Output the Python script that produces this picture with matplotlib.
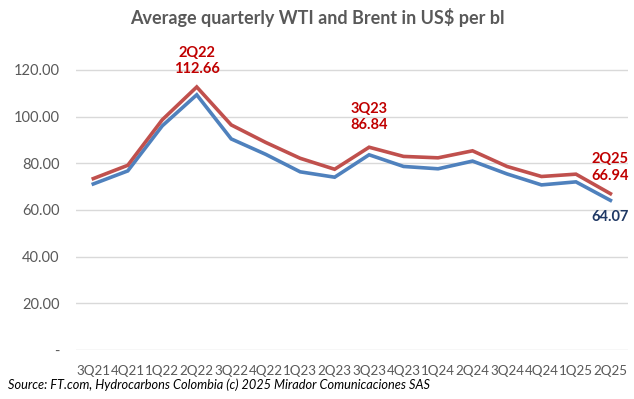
import matplotlib.pyplot as plt

# Data
quarters = ["3Q21", "4Q21", "1Q22", "2Q22", "3Q22", "4Q22", "1Q23", "2Q23",
            "3Q23", "4Q23", "1Q24", "2Q24", "3Q24", "4Q24", "1Q25", "2Q25"]
brent = [73.4, 79.1, 98.6, 112.66, 96.4, 88.9, 82.1, 77.4,
         86.84, 82.9, 82.3, 85.3, 78.6, 74.3, 75.3, 66.94]
wti = [71.1, 76.7, 96.0, 109.3, 90.4, 83.8, 76.3, 74.0,
       83.6, 78.6, 77.6, 80.9, 75.4, 70.7, 72.0, 64.07]
yticks = [0, 20, 40, 60, 80, 100, 120]
ytick_labels = ["-", "20.00", "40.00", "60.00", "80.00", "100.00", "120.00"]

plt.rcParams['font.family'] = ['Lato', 'DejaVu Sans']

fig = plt.figure(figsize=(6.34, 3.99), dpi=100)
ax = fig.add_axes([0.12, 0.123, 0.87, 0.819])

x = list(range(len(quarters)))
ax.plot(x, wti, color='#4F81BD', linewidth=2.6, solid_joinstyle='miter', zorder=3)
ax.plot(x, brent, color='#C0504D', linewidth=2.6, solid_joinstyle='miter', zorder=3)

ax.set_xlim(-0.5, len(quarters) - 0.5)
ax.set_ylim(0, 140)
ax.set_yticks(yticks)
ax.set_yticklabels(ytick_labels)
ax.set_xticks(x)
ax.set_xticklabels(quarters)
ax.tick_params(axis='both', length=0, colors='#595959')
ax.tick_params(axis='x', pad=11, labelsize=9.6)
ax.tick_params(axis='y', pad=12, labelsize=10.5)
ax.grid(axis='y', color='#D9D9D9', linewidth=1)
ax.set_axisbelow(True)
for s in ax.spines.values():
    s.set_visible(False)

# Annotations
red = '#C00000'
for i, off in [(3, 8), (8, 11), (15, 8)]:
    ax.annotate(f"{quarters[i]}\n{brent[i]:.2f}", (i, brent[i]), xytext=(0, off),
                textcoords='offset points', ha='center', va='bottom',
                color=red, fontsize=10.5, fontweight='bold', linespacing=1.2)
ax.annotate(f"{wti[15]:.2f}", (15, wti[15]), xytext=(0, -7),
            textcoords='offset points', ha='center', va='top',
            color='#1F3864', fontsize=10.5, fontweight='bold')

fig.text(0.5, 0.955, "Average quarterly WTI and Brent in US$ per bl", ha='center',
         va='center', fontsize=13, fontweight='bold', color='#595959')
fig.text(0.012, 0.035, "Source: FT.com, Hydrocarbons Colombia (c) 2025 Mirador Comunicaciones SAS",
         ha='left', va='center', fontsize=9.2, style='italic', color='black')

fig.savefig("out.png", dpi=100)
